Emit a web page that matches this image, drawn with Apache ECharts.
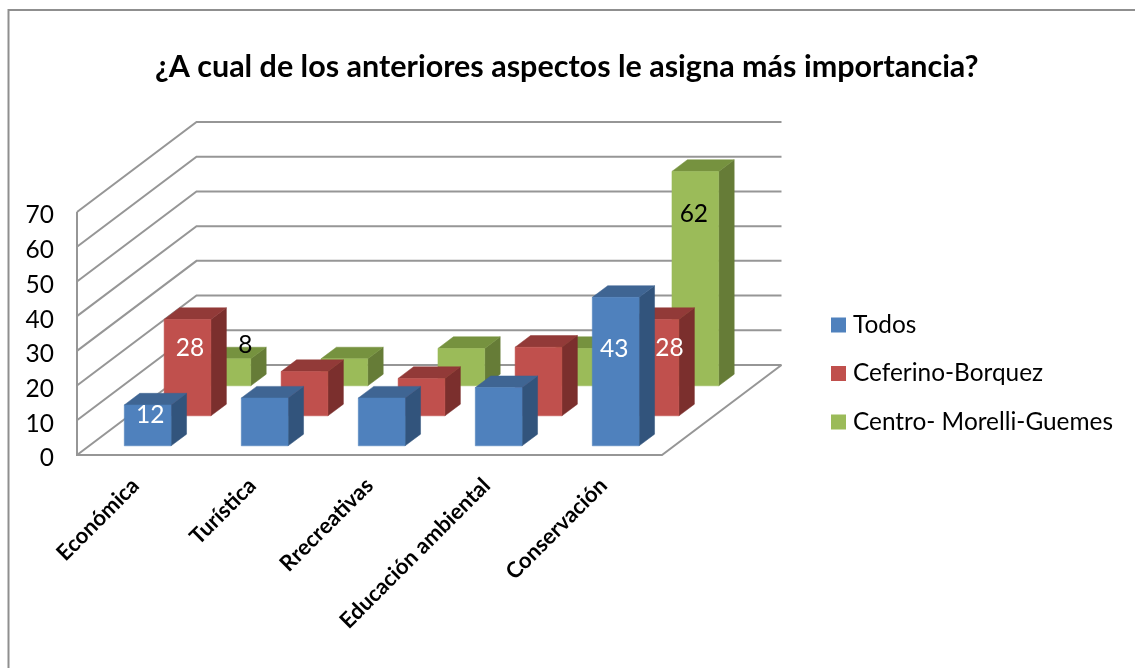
<!DOCTYPE html>
<html><head><meta charset="utf-8">
<style>html,body{margin:0;padding:0;background:#fff}#c{width:1135px;height:668px}</style>
<script src="https://cdn.jsdelivr.net/npm/echarts@6/dist/echarts.min.js"></script>
</head><body><div id="c"></div>
<script>
const titleText = '¿A cual de los anteriores aspectos le asigna más importancia?';
const categories = ['Económica','Turística','Rrecreativas','Educación ambiental','Conservación'];
const yTicks = [0,10,20,30,40,50,60,70];
const todos = [12,14,14,17,43];
const ceferino = [28,13,11,20,28];
const centro = [8,8,11,11,62];
const seriesNames = ['Todos','Ceferino-Borquez','Centro- Morelli-Guemes'];

// Oblique projection of the floor depth (front edge to back wall)
const DEPTH_X = 119.5, DEPTH_Y = -90;
const ROWS = 3, ROW_GAP = 0.306, BAR_SHARE = 0.4, TOP_INSET = 0.8;
const FONT = 'Lato, Carlito, "Noto Sans", sans-serif';
const GRID_COLOR = '#969696';
const palettes = [
  {front:'#4f81bd', top:'#3f6593', side:'#32547c'},
  {front:'#c0504d', top:'#923a38', side:'#7b2f2d'},
  {front:'#9bbb59', top:'#76923f', side:'#667c37'}
];
// Which points carry a value label, and its nudge from the front-top centre of the bar
const labelPlacement = [
  {0:{dx:2.5,dy:10,color:'#fff'}, 4:{dx:-1.5,dy:52,color:'#fff'}},
  {0:{dx:2.5,dy:29,color:'#fff'}, 4:{dx:14,dy:29,color:'#fff'}},
  {0:{dx:18,dy:-14,color:'#000'}, 4:{dx:-1.5,dy:43,color:'#000'}}
];

function barRenderer(row){
  const pal = palettes[row], labels = labelPlacement[row];
  const d0 = (row + ROW_GAP) / ROWS, d1 = (row + 1 - ROW_GAP) / ROWS;
  return function(params, api){
    const i = api.value(0), v = api.value(1);
    const base = api.coord([i,0]), peak = api.coord([i,v]);
    const w = api.size([1,0])[0] * BAR_SHARE;
    const x0 = base[0] - w/2 + DEPTH_X*d0, x1 = x0 + w;
    const yb = base[1] + DEPTH_Y*d0, yt = peak[1] + DEPTH_Y*d0 + TOP_INSET;
    const ox = DEPTH_X*(d1-d0), oy = DEPTH_Y*(d1-d0);
    const poly = (pts,fill)=>({type:'polygon',shape:{points:pts},style:{fill:fill,stroke:fill,lineWidth:0.5}});
    const children = [
      poly([[x1,yb],[x1+ox,yb+oy],[x1+ox,yt+oy],[x1,yt]],pal.side),
      poly([[x0,yt],[x1,yt],[x1+ox,yt+oy],[x0+ox,yt+oy]],pal.top),
      poly([[x0,yb],[x1,yb],[x1,yt],[x0,yt]],pal.front)
    ];
    const lab = labels[params.dataIndex];
    if(lab){
      children.push({type:'text',z2:10,style:{text:String(v),x:(x0+x1)/2+lab.dx,y:yt+lab.dy,
        fill:lab.color,font:'24.5px '+FONT,textAlign:'center',textVerticalAlign:'middle'}});
    }
    return {type:'group',children:children};
  };
}
function wallRenderer(params, api){
  const v = api.value(0), cs = params.coordSys;
  const y = api.coord([0,v])[1], xl = cs.x, xr = cs.x + cs.width;
  const pts = [[xl,y],[xl+DEPTH_X,y+DEPTH_Y],[xr+DEPTH_X,y+DEPTH_Y]];
  const style = {fill:'none',stroke:GRID_COLOR,lineWidth:2};
  const children = [{type:'polyline',shape:{points:pts},style:style}];
  if(v === 0){
    const top = api.coord([0,yTicks[yTicks.length-1]])[1];
    children.push({type:'polyline',shape:{points:[[xl,top],[xl,y],[xr,y],[xr+DEPTH_X,y+DEPTH_Y]]},style:style});
  }
  return {type:'group',children:children};
}
const rows = [todos,ceferino,centro];
const barSeries = rows.map((vals,row)=>({
  type:'custom', name:seriesNames[row], z:6-row,
  coordinateSystem:'cartesian2d',
  itemStyle:{color:palettes[row].front},
  renderItem:barRenderer(row),
  encode:{x:0,y:1},
  data:vals.map((v,i)=>[i,v])
}));
const chart = echarts.init(document.getElementById('c'),null,{renderer:'canvas'});
chart.setOption({
  animation:false,
  backgroundColor:'#fff',
  title:{text:titleText,left:155,top:52,padding:0,
    textStyle:{fontFamily:FONT,fontWeight:'bold',fontSize:30.5,color:'#000'}},
  grid:{left:77,top:212,width:585,height:243},
  legend:{orient:'vertical',left:831,top:313,padding:0,icon:'rect',itemWidth:15,itemHeight:15,itemGap:24.5,
    data:seriesNames,selectedMode:false,
    textStyle:{fontFamily:FONT,fontSize:24.4,color:'#000',padding:[0,0,0,2]}},
  xAxis:{type:'category',data:categories,
    axisLine:{show:false},axisTick:{show:false},
    axisLabel:{interval:0,rotate:45,margin:27,fontFamily:FONT,fontWeight:'bold',fontSize:22,color:'#000'}},
  yAxis:{type:'value',min:0,max:70,interval:10,
    axisLine:{show:false},axisTick:{show:false},splitLine:{show:false},
    axisLabel:{margin:23,formatter:'{t|{value}}',
      rich:{t:{fontFamily:FONT,fontSize:24.5,color:'#000',padding:[7,0,0,0]}}}},
  graphic:[{type:'rect',silent:true,z:-1,shape:{x:8.5,y:10,width:1300,height:800},
    style:{fill:'none',stroke:'#8f8f8f',lineWidth:2}}],
  series:[{type:'custom',name:'walls',z:1,silent:true,coordinateSystem:'cartesian2d',
    renderItem:wallRenderer,encode:{y:0},data:yTicks.map(v=>[v])}].concat(barSeries)
});
</script></body></html>
